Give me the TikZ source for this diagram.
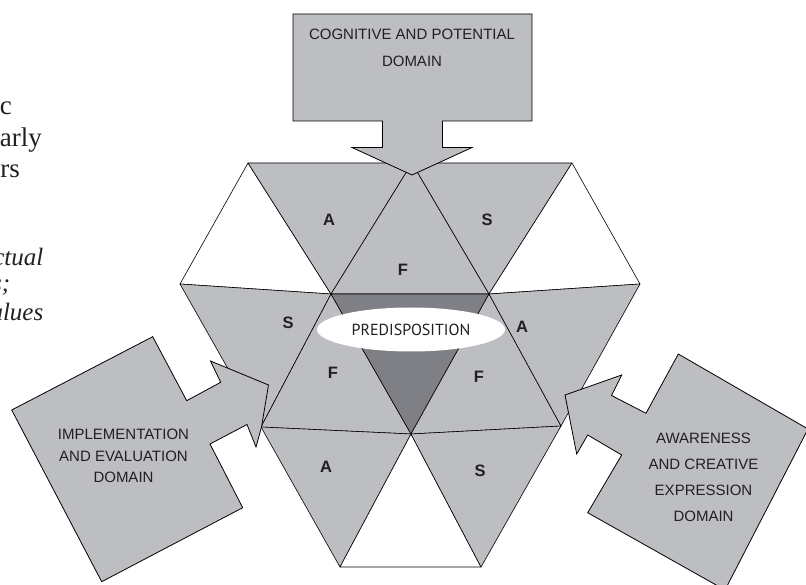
\documentclass[tikz,border=0pt]{standalone}
\usepackage{fontspec}
\setmainfont{Liberation Sans}
\newfontfamily\bookfont{Liberation Serif}
\newfontfamily\predfont{PT Sans}
\usetikzlibrary{shapes.geometric}
\definecolor{facegrey}{RGB}{189,190,194}
\definecolor{coregrey}{RGB}{127,128,133}
\definecolor{ink}{RGB}{35,31,32}

\begin{document}
\begin{tikzpicture}[x=1pt,y=-1pt,
  face/.style={fill=facegrey,draw=black,line width=0.6pt,line join=round},
  blank/.style={fill=white,draw=black,line width=0.6pt,line join=round},
  core/.style={fill=coregrey,draw=black,line width=0.6pt,line join=round},
  domainarrow/.style={fill=facegrey,draw=black,line width=0.8pt,line join=miter},
  letter/.style={inner sep=0pt,text=ink,font=\fontsize{16.5}{18}\selectfont\bfseries},
  domainlabel/.style={inner sep=0pt,align=center,text=ink},
  booktext/.style={inner sep=0pt,anchor=base east,text=ink}]
\useasboundingbox (0,0) rectangle (806,585);
\clip (0,0) rectangle (806,585);

\coordinate (T1) at (248,163); \coordinate (TM) at (412,163); \coordinate (T3) at (572,163);
\coordinate (L) at (180,284); \coordinate (C1) at (331,294); \coordinate (C2) at (489,294); \coordinate (R) at (640,284);
\coordinate (LL) at (261,427); \coordinate (B) at (411,434); \coordinate (LR) at (561,426);
\coordinate (BL) at (340,567); \coordinate (BR) at (481,567);

\draw[blank] (T1) -- (L) -- (C1) -- cycle;
\draw[face] (T1) -- (TM) -- (C1) -- cycle;
\draw[face] (TM) -- (C1) -- (C2) -- cycle;
\draw[face] (TM) -- (T3) -- (C2) -- cycle;
\draw[blank] (T3) -- (R) -- (C2) -- cycle;
\draw[face] (L) -- (C1) -- (LL) -- cycle;
\draw[face] (C1) -- (LL) -- (B) -- cycle;
\draw[core] (C1) -- (C2) -- (B) -- cycle;
\draw[face] (C2) -- (B) -- (LR) -- cycle;
\draw[face] (C2) -- (R) -- (LR) -- cycle;
\draw[face] (LL) -- (B) -- (BL) -- cycle;
\draw[blank] (B) -- (BL) -- (BR) -- cycle;
\draw[face] (B) -- (LR) -- (BR) -- cycle;

\node[ellipse,fill=white,minimum width=188pt,minimum height=44pt,inner sep=0pt,
  text=ink,font=\predfont\fontsize{16}{18}\selectfont] (pred) at (411,329.5) {PREDISPOSITION};

\draw[domainarrow] (293,14) -- (532,14) -- (532,121) -- (442.5,121) -- (442.5,147.5) -- (472,147.5)
  -- (412,175) -- (352,147.5) -- (382.5,147.5) -- (382.5,121) -- (293,121) -- cycle;
\draw[domainarrow] (11.7,410) -- (152.7,336.7) -- (186.7,400.7) -- (220.7,382.3) -- (210.5,361)
  -- (268.5,385) -- (261.5,427) -- (256,447) -- (247,424.5) -- (210,444) -- (242.7,507.7)
  -- (101.7,581.7) -- cycle;
\draw[domainarrow] (565,395) -- (621.7,375) -- (611.5,395.5) -- (646,413.3) -- (678.3,354)
  -- (808,429) -- (725,590) -- (587.7,512.7) -- (621.7,455) -- (587.7,435) -- (576.7,454) -- cycle;

\node[domainlabel,font=\fontsize{15}{27}\selectfont] (cog) at (412,47.5) {COGNITIVE AND POTENTIAL\\DOMAIN};
\node[domainlabel,font=\fontsize{15}{21.7}\selectfont] (impl) at (123.5,456) {IMPLEMENTATION\\AND EVALUATION\\DOMAIN};
\node[domainlabel,font=\fontsize{15}{26}\selectfont] (aware) at (703.5,477.5) {AWARENESS\\AND CREATIVE\\EXPRESSION\\DOMAIN};

\node[letter] (atop) at (329,220) {A};
\node[letter] (stop) at (487,220) {S};
\node[letter] (ftop) at (403,270) {F};
\node[letter] (sleft) at (288,323) {S};
\node[letter] (aright) at (522,327) {A};
\node[letter] (fleft) at (333,373) {F};
\node[letter] (fright) at (479,377) {F};
\node[letter] (abot) at (326,467) {A};
\node[letter] (sbot) at (480,471) {S};

\node[booktext,font=\bookfont\fontsize{27}{32}\selectfont] (w1) at (12,115) {c};
\node[booktext,font=\bookfont\fontsize{27}{32}\selectfont] (w2) at (42,146.7) {arly};
\node[booktext,font=\bookfont\fontsize{27}{32}\selectfont] (w3) at (20,177.7) {rs};
\node[booktext,font=\bookfont\itshape\fontsize{25}{26}\selectfont] (w4) at (43.5,265.7) {ctual};
\node[booktext,font=\bookfont\itshape\fontsize{25}{26}\selectfont] (w5) at (10.5,291.7) {s;};
\node[booktext,font=\bookfont\itshape\fontsize{25}{26}\selectfont] (w6) at (43.5,320) {alues};
\end{tikzpicture}
\end{document}
